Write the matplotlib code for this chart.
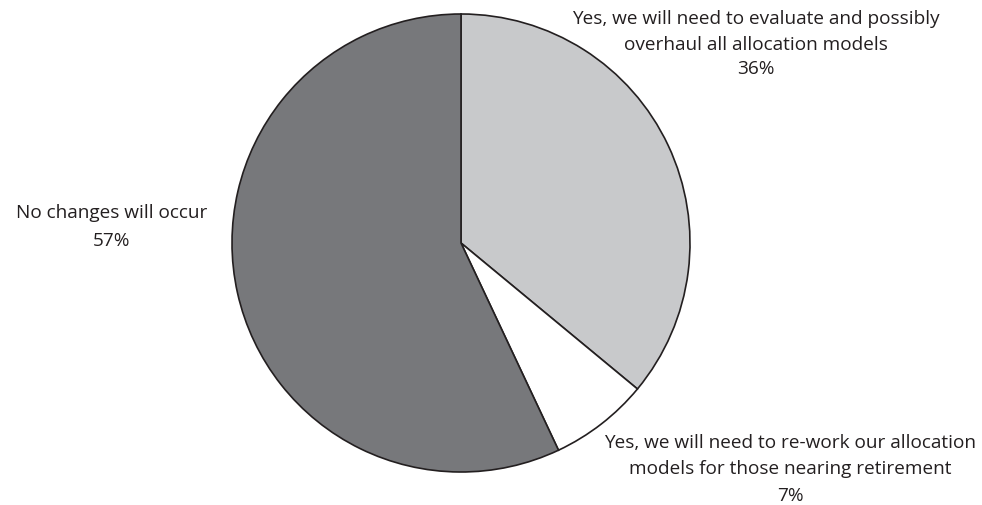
import matplotlib.pyplot as plt

labels = ['Yes, we will need to evaluate and possibly\noverhaul all allocation models',
          'Yes, we will need to re-work our allocation\nmodels for those nearing retirement',
          'No changes will occur']
values = [36, 7, 57]
colors = ['#c8c9cb', '#ffffff', '#77787b']

plt.rcParams['font.family'] = ['Open Sans', 'DejaVu Sans']

W, H = 982, 506
fig = plt.figure(figsize=(W / 100, H / 100), dpi=100)
cx, cy, r = 461, 244, 229
ax = fig.add_axes([(cx - r) / W, (H - cy - r) / H, 2 * r / W, 2 * r / H])
ax.pie(values, colors=colors, startangle=90, counterclock=False,
       wedgeprops={'edgecolor': '#231f20', 'linewidth': 1.2})
ax.set_xlim(-1, 1)
ax.set_ylim(-1, 1)
ax.axis('off')

# label positions in pixels: centre x, top y of label, top y of percent
label_pos = [(756, 10, 60), (790, 434, 487), (112, 204, 232)]
for lab, v, (x, y, py) in zip(labels, values, label_pos):
    fig.text(x / W, 1 - y / H, lab, ha='center', va='top',
             fontsize=13.7, color='#231f20', linespacing=1.57)
    fig.text(x / W, 1 - py / H, str(v) + '%', ha='center', va='top',
             fontsize=13.7, color='#231f20')

fig.savefig('out.png', dpi=100)
